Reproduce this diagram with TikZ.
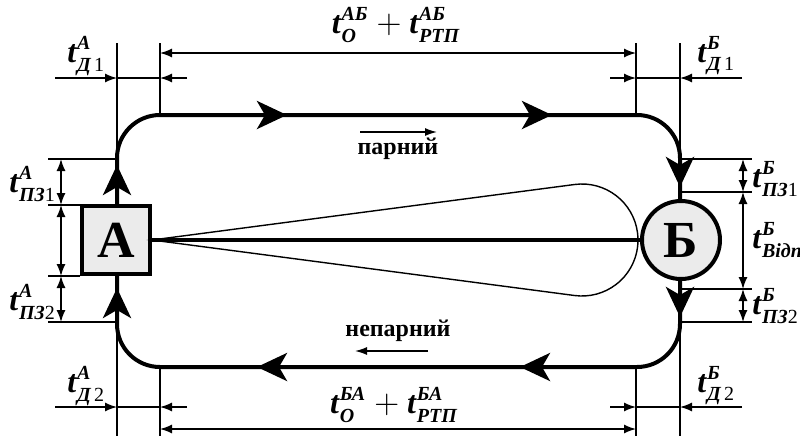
\documentclass[tikz,border=0pt]{standalone}
\usepackage{amsmath}
\usepackage{fontspec}
\setmainfont{Liberation Serif}
\usetikzlibrary{arrows.meta, calc}

\definecolor{stgray}{gray}{0.92}
\DeclareMathSizes{16}{16}{10}{8}
% t with superscript, subscript and upright index
\newcommand{\tlab}[3]{\textbf{\textit{t}}$^{\text{\bfseries\itshape #1}}_{\text{\bfseries\itshape #2\normalfont #3}}$}

\begin{document}
\begin{tikzpicture}[x=0.5pt, y=-0.5pt,
    track/.style={line width=2pt, rounded corners=21.5pt},
    dir/.style={line width=2pt, -{Stealth[length=15pt, width=14pt, inset=4pt]}},
    thin/.style={line width=0.7pt},
    dimr/.style={thin, -{Latex[length=6pt, width=4.5pt]}},
    dimb/.style={thin, {Latex[length=6pt, width=4.5pt]}-{Latex[length=6pt, width=4.5pt]}},
    lab/.style={font=\fontsize{16}{18}\selectfont, inner sep=0pt},
    txt/.style={font=\fontsize{12}{14}\selectfont\bfseries, inner sep=0pt},
    station/.style={draw, line width=2pt, fill=stgray, inner sep=0pt,
      font=\fontsize{26}{28}\selectfont\bfseries}
]
\useasboundingbox (0,0) rectangle (800,436);

% track
\coordinate (tl) at (117,115);
\coordinate (br) at (680,367);
\draw[track] (tl) rectangle (br);

% stations
\node[station, minimum size=34pt] (A) at (116,240) {А};
\node[station, circle, minimum size=39pt] (B) at (681,240) {Б};
\draw[line width=1.6pt] (A.east) -- (B.west);

% loop
\coordinate (loop) at (582,240);
\draw[thin] (A.east) -- ($(loop)+(-97.5:56)$) arc[start angle=-97.5, end angle=97.5, radius=56] -- cycle;

% direction of movement
\draw[dir] (257,115) -- (287,115);
\draw[dir] (522,115) -- (552,115);
\draw[dir] (680,160) -- (680,187);
\draw[dir] (680,290) -- (680,317);
\draw[dir] (550,367) -- (520,367);
\draw[dir] (287,367) -- (257,367);
\draw[dir] (117,317) -- (117,288);
\draw[dir] (117,195) -- (117,165);

% extension lines
\draw[thin] (117,43) -- (117,158);
\draw[thin] (160,43) -- (160,115);
\draw[thin] (636,43) -- (636,115);
\draw[thin] (680,43) -- (680,158);
\draw[thin] (117,324) -- (117,436);
\draw[thin] (160,367) -- (160,436);
\draw[thin] (636,367) -- (636,436);
\draw[thin] (680,324) -- (680,436);

% top dimensions
\draw[dimb] (160,53) -- (636,53);
\draw[dimr] (55,78) -- (117,78);
\draw[thin] (117,78) -- (160,78);
\draw[dimr] (187,78) -- (160,78);
\draw[dimr] (610,78) -- (636,78);
\draw[thin] (636,78) -- (680,78);
\draw[dimr] (742,78) -- (680,78);

% bottom dimensions
\draw[dimb] (160,429) -- (636,429);
\draw[dimr] (55,407) -- (117,407);
\draw[thin] (117,407) -- (160,407);
\draw[dimr] (187,407) -- (160,407);
\draw[dimr] (610,407) -- (636,407);
\draw[thin] (636,407) -- (680,407);
\draw[dimr] (742,407) -- (680,407);

% left dimensions
\foreach \y/\xe in {159/117, 205/80, 276/80, 322/117}
  \draw[thin] (48,\y) -- (\xe,\y);
\draw[dimb] (61,159) -- (61,205);
\draw[dimb] (61,205) -- (61,276);
\draw[dimb] (61,276) -- (61,322);

% right dimensions
\foreach \y in {159, 192, 289, 322}
  \draw[thin] (680,\y) -- (752,\y);
\draw[dimb] (743,159) -- (743,192);
\draw[dimb] (743,192) -- (743,289);
\draw[dimb] (743,289) -- (743,322);

% labels
\node[lab] (tAB) at (396,25) {\tlab{АБ}{О}{} $+$ \tlab{АБ}{РТП}{}};
\node[lab] (tBA) at (394,405) {\tlab{БА}{О}{} $+$ \tlab{БА}{РТП}{}};
\node[lab, anchor=west] (tAD1) at (67,56) {\tlab{А}{Д}{\,1}};
\node[lab, anchor=west] (tBD1) at (697,56) {\tlab{Б}{Д}{\,1}};
\node[lab, anchor=west] (tAD2) at (67,386) {\tlab{А}{Д}{\,2}};
\node[lab, anchor=west] (tBD2) at (697,386) {\tlab{Б}{Д}{\,2}};
\node[lab, anchor=west] (tAP1) at (9,184) {\tlab{А}{ПЗ}{1}};
\node[lab, anchor=west] (tAP2) at (9,302) {\tlab{А}{ПЗ}{2}};
\node[lab, anchor=west] (tBP1) at (752,179) {\tlab{Б}{ПЗ}{1}};
\node[lab, anchor=west] (tBV) at (752,240) {\tlab{Б}{Відп}{}};
\node[lab, anchor=west] (tBP2) at (752,306) {\tlab{Б}{ПЗ}{2}};

% train directions
\node[txt] (even) at (398,149) {парний};
\draw[thin, -{Latex[length=6pt, width=4pt]}] (360,132) -- (437,132);
\node[txt] (odd) at (398,331) {непарний};
\draw[thin, -{Latex[length=6pt, width=4pt]}] (428,351) -- (355,351);
\end{tikzpicture}
\end{document}
